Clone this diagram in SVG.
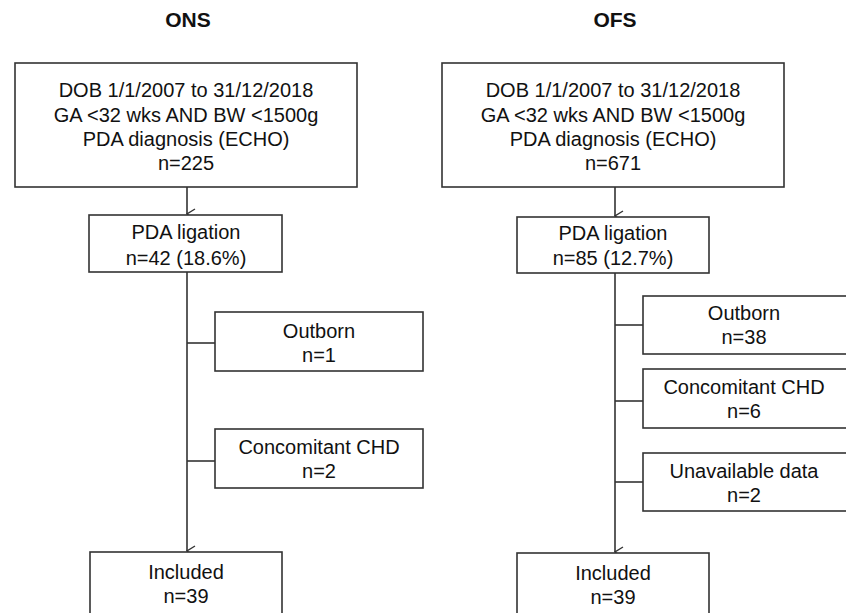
<svg xmlns="http://www.w3.org/2000/svg" width="846" height="613" viewBox="0 0 846 613">
<style>
.box{fill:#fff;stroke:#333;stroke-width:1.6}
.t{font-family:"Liberation Sans",Arial,sans-serif;font-size:20px;fill:#111;text-anchor:middle}
.h{font-family:"Liberation Sans",Arial,sans-serif;font-size:21px;font-weight:bold;fill:#111;text-anchor:middle}
.c{stroke:#333;stroke-width:1.6;fill:none}
</style>
<defs>
<marker id="arr" viewBox="0 0 12 12" refX="6" refY="11" markerWidth="12" markerHeight="12" markerUnits="userSpaceOnUse" orient="auto-start-reverse">
<polyline points="1,3 6,11 11,3" fill="none" stroke="#333" stroke-width="1.4"/>
</marker>
</defs>
<rect width="846" height="613" fill="#fff"/>
<text class="h" x="188" y="27">ONS</text>
<text class="h" x="615" y="27">OFS</text>
<g id="connectors">
<line class="c" x1="187" y1="187" x2="187" y2="214" marker-end="url(#arr)" transform="rotate(0)"/>
<line class="c" x1="187" y1="272" x2="187" y2="551" marker-end="url(#arr)"/>
<line class="c" x1="187" y1="343" x2="215" y2="343"/>
<line class="c" x1="187" y1="461" x2="215" y2="461"/>
<line class="c" x1="615" y1="187" x2="615" y2="216" marker-end="url(#arr)"/>
<line class="c" x1="615" y1="273" x2="615" y2="552" marker-end="url(#arr)"/>
<line class="c" x1="615" y1="325" x2="643" y2="325"/>
<line class="c" x1="615" y1="401" x2="643" y2="401"/>
<line class="c" x1="615" y1="482" x2="643" y2="482"/>
</g>
<g id="ons-start">
<rect class="box" x="15" y="63" width="342" height="124"/>
<text class="t" x="186" y="97">DOB 1/1/2007 to 31/12/2018</text>
<text class="t" x="186" y="122">GA &lt;32 wks AND BW &lt;1500g</text>
<text class="t" x="186" y="146">PDA diagnosis (ECHO)</text>
<text class="t" x="186" y="170">n=225</text>
</g>
<g id="ons-ligation">
<rect class="box" x="89" y="215" width="193" height="57"/>
<text class="t" x="186" y="239">PDA ligation</text>
<text class="t" x="186" y="265">n=42 (18.6%)</text>
</g>
<g id="ons-outborn">
<rect class="box" x="215" y="312" width="208" height="59"/>
<text class="t" x="319" y="338">Outborn</text>
<text class="t" x="319" y="362">n=1</text>
</g>
<g id="ons-chd">
<rect class="box" x="215" y="429" width="208" height="59"/>
<text class="t" x="319" y="454">Concomitant CHD</text>
<text class="t" x="319" y="478">n=2</text>
</g>
<g id="ons-included">
<rect class="box" x="90" y="552" width="192" height="80"/>
<text class="t" x="186" y="579">Included</text>
<text class="t" x="186" y="603">n=39</text>
</g>
<g id="ofs-start">
<rect class="box" x="442" y="63" width="342" height="124"/>
<text class="t" x="613" y="97">DOB 1/1/2007 to 31/12/2018</text>
<text class="t" x="613" y="122">GA &lt;32 wks AND BW &lt;1500g</text>
<text class="t" x="613" y="146">PDA diagnosis (ECHO)</text>
<text class="t" x="613" y="170">n=671</text>
</g>
<g id="ofs-ligation">
<rect class="box" x="517" y="217" width="192" height="56"/>
<text class="t" x="613" y="240">PDA ligation</text>
<text class="t" x="613" y="265">n=85 (12.7%)</text>
</g>
<g id="ofs-outborn">
<rect class="box" x="643" y="296" width="208" height="58"/>
<text class="t" x="744" y="320">Outborn</text>
<text class="t" x="744" y="344">n=38</text>
</g>
<g id="ofs-chd">
<rect class="box" x="643" y="369" width="208" height="59"/>
<text class="t" x="744" y="394">Concomitant CHD</text>
<text class="t" x="744" y="418">n=6</text>
</g>
<g id="ofs-unavailable">
<rect class="box" x="643" y="453" width="208" height="58"/>
<text class="t" x="744" y="478">Unavailable data</text>
<text class="t" x="744" y="502">n=2</text>
</g>
<g id="ofs-included">
<rect class="box" x="517" y="553" width="192" height="80"/>
<text class="t" x="613" y="580">Included</text>
<text class="t" x="613" y="604">n=39</text>
</g>
</svg>
